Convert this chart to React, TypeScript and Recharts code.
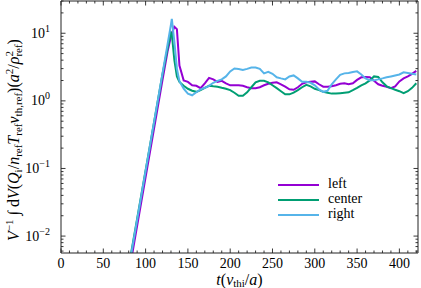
import React from 'react';
import { LineChart, Line, XAxis, YAxis, ReferenceLine, Legend } from 'recharts';

const times = [80, 120, 126, 130, 131, 134, 137, 140, 145, 150, 155, 160, 165, 170, 175, 180, 185, 190, 195, 200, 205, 210, 215, 220, 225, 230, 235, 240, 245, 250, 255, 260, 265, 270, 275, 280, 285, 290, 295, 300, 305, 310, 315, 320, 325, 330, 335, 340, 345, 350, 355, 360, 365, 370, 375, 380, 385, 390, 395, 400, 405, 410, 415, 420];

const leftFlux = [0.0027, 2.05, 5.4, 9.0, 9.8, 12.5, 11.5, 3.33, 2.01, 1.91, 1.70, 1.67, 1.54, 1.82, 2.19, 2.08, 1.91, 1.98, 1.82, 1.70, 1.70, 1.70, 1.67, 1.59, 1.54, 1.54, 1.59, 1.70, 1.79, 1.85, 1.88, 1.76, 1.62, 1.48, 1.46, 1.59, 1.79, 1.88, 1.91, 1.94, 1.76, 1.62, 1.62, 1.64, 1.70, 1.79, 1.82, 1.76, 1.82, 2.04, 2.23, 2.26, 2.23, 1.98, 1.76, 1.67, 1.62, 1.54, 1.64, 1.94, 2.15, 2.30, 2.51, 2.77];

const centerFlux = [0.0035, 2.5, 6.0, 10.3, 9.8, 4.0, 2.3, 1.91, 1.67, 1.51, 1.41, 1.36, 1.44, 1.56, 1.67, 1.64, 1.62, 1.56, 1.51, 1.44, 1.32, 1.19, 1.19, 1.34, 1.59, 1.88, 1.98, 1.98, 1.88, 1.70, 1.54, 1.39, 1.25, 1.25, 1.32, 1.44, 1.59, 1.73, 1.64, 1.51, 1.44, 1.36, 1.32, 1.28, 1.28, 1.30, 1.32, 1.34, 1.44, 1.56, 1.70, 1.82, 2.01, 2.30, 2.26, 1.88, 1.64, 1.54, 1.46, 1.39, 1.30, 1.39, 1.56, 1.82];

const rightFlux = [0.0033, 2.55, 6.9, 13.5, 16.3, 7.5, 3.0, 1.95, 1.51, 1.28, 1.21, 1.34, 1.48, 1.56, 1.67, 1.85, 1.98, 2.08, 2.30, 2.73, 3.02, 2.97, 2.87, 2.97, 3.12, 3.12, 2.97, 2.55, 2.68, 2.51, 2.23, 2.15, 2.08, 2.30, 2.38, 2.15, 1.91, 1.91, 1.85, 1.70, 1.48, 1.36, 1.41, 1.76, 2.08, 2.42, 2.55, 2.59, 2.68, 2.73, 2.46, 2.15, 2.01, 2.01, 2.08, 2.15, 2.23, 2.30, 2.38, 2.46, 2.64, 2.59, 2.51, 2.46];

const seriesKeys = ['left', 'center', 'right'];
const seriesNames = ['left', 'center', 'right'];
const seriesColors = ['#9400D3', '#009E73', '#56B4E9'];

const xMajorTicks = [0, 50, 100, 150, 200, 250, 300, 350, 400];
const xMinorStep = 10;
const xMax = 422;
const yMajorTicks = [0.01, 0.1, 1, 10];
const yMajorExponents = ['\u22122', '\u22121', '0', '1'];
const yMinorMultipliers = [2, 3, 4, 5, 6, 7, 8, 9];
const yDomain = [0.00562, 30];

const data = times.map((t, i) => ({ t, left: leftFlux[i], center: centerFlux[i], right: rightFlux[i] }));

const xTicks: number[] = [];
for (let v = 0; v <= 420; v += xMinorStep) xTicks.push(v);
const yTicks: number[] = [];
[0.001, 0.01, 0.1, 1, 10].forEach((dec) => {
  if (dec >= yDomain[0] && dec <= yDomain[1]) yTicks.push(dec);
  yMinorMultipliers.forEach((m) => {
    const v = +(m * dec).toPrecision(3);
    if (v >= yDomain[0] && v <= yDomain[1]) yTicks.push(v);
  });
});
yTicks.sort((a, b) => a - b);

const W = 421;
const H = 288;
const LEFT = 61;
const TOP = 1;
const RIGHT = 418;
const BOTTOM = 253;
const FONT = 'Liberation Serif';
const AX = '#222';

const XTick = (props: any) => {
  const { x, payload } = props;
  const v = payload.value;
  const major = xMajorTicks.includes(v);
  const len = major ? 4.5 : 2.5;
  return (
    <g>
      <line x1={x} x2={x} y1={BOTTOM} y2={BOTTOM - len} stroke={AX} strokeWidth={0.9} />
      <line x1={x} x2={x} y1={TOP} y2={TOP + len} stroke={AX} strokeWidth={0.9} />
      {major && (
        <text x={x} y={268} textAnchor="middle" fontSize={14} fontFamily={FONT} fill="#000">
          {v}
        </text>
      )}
    </g>
  );
};

const YTick = (props: any) => {
  const { y, payload } = props;
  const v = payload.value;
  const idx = yMajorTicks.findIndex((m) => Math.abs(m - v) / m < 1e-6);
  const major = idx >= 0;
  const len = major ? 4.5 : 2.5;
  return (
    <g>
      <line x1={LEFT} x2={LEFT + len} y1={y} y2={y} stroke={AX} strokeWidth={0.9} />
      <line x1={RIGHT} x2={RIGHT - len} y1={y} y2={y} stroke={AX} strokeWidth={0.9} />
      {major && (
        <text x={50} y={y + 4.5} textAnchor="end" fontSize={14} fontFamily={FONT} fill="#000">
          <tspan>10</tspan>
          <tspan fontSize={10} dy={-6}>{yMajorExponents[idx]}</tspan>
        </text>
      )}
    </g>
  );
};

const sub = 11;

const YLabel = () => (
  <text transform={`translate(19, 140) rotate(-90)`} textAnchor="middle" fontSize={16} fontFamily={FONT} fill="#000">
    <tspan fontStyle="italic">V</tspan>
    <tspan fontSize={sub} dy={-6}>{'\u22121'}</tspan>
    <tspan dy={6}>{' \u222B d'}</tspan>
    <tspan fontStyle="italic">V</tspan>
    <tspan>(</tspan>
    <tspan fontStyle="italic">Q</tspan>
    <tspan fontSize={sub} dy={3}>i</tspan>
    <tspan dy={-3}>/</tspan>
    <tspan fontStyle="italic">n</tspan>
    <tspan fontSize={sub} dy={3}>ref</tspan>
    <tspan dy={-3} fontStyle="italic">T</tspan>
    <tspan fontSize={sub} dy={3}>ref</tspan>
    <tspan dy={-3} fontStyle="italic">v</tspan>
    <tspan fontSize={sub} dy={3}>th,ref</tspan>
    <tspan dy={-3}>)(</tspan>
    <tspan fontStyle="italic">a</tspan>
    <tspan fontSize={sub} dy={-6}>2</tspan>
    <tspan dy={6}>/</tspan>
    <tspan fontStyle="italic">{'\u03C1'}</tspan>
    <tspan fontSize={sub} dy={-6}>2</tspan>
    <tspan fontSize={sub} dx={-5.5} dy={9}>ref</tspan>
    <tspan dy={-3}>)</tspan>
  </text>
);

const XLabel = () => (
  <text x={(LEFT + RIGHT) / 2} y={284.5} textAnchor="middle" fontSize={16} fontFamily={FONT} fill="#000">
    <tspan fontStyle="italic">t</tspan>
    <tspan>(</tspan>
    <tspan fontStyle="italic">v</tspan>
    <tspan fontSize={sub} dy={2.5}>thi</tspan>
    <tspan dy={-2.5}>/</tspan>
    <tspan fontStyle="italic">a</tspan>
    <tspan>)</tspan>
  </text>
);

const LegendBox = () => (
  <div style={{ fontFamily: FONT, fontSize: 14, color: '#000' }}>
    {seriesNames.map((name, i) => (
      <div key={name} style={{ display: 'flex', alignItems: 'center', height: 15 }}>
        <span style={{ display: 'inline-block', width: 41, height: 2, background: seriesColors[i], marginRight: 9 }} />
        <span style={{ lineHeight: '15px', position: 'relative', top: -1 }}>{name}</span>
      </div>
    ))}
  </div>
);

export default function App() {
  return (
    <div style={{ position: 'absolute', left: 0, top: 0, width: W, height: H, background: '#fff' }}>
      <LineChart width={W} height={H} data={data} margin={{ top: TOP, right: W - RIGHT, bottom: 0, left: 0 }}>
        <XAxis
          dataKey="t"
          type="number"
          domain={[0, xMax]}
          ticks={xTicks}
          interval={0}
          tick={<XTick />}
          tickLine={false}
          height={H - BOTTOM}
          axisLine={{ stroke: AX }}
          allowDataOverflow
          label={{ content: () => <XLabel /> }}
        />
        <YAxis
          type="number"
          scale="log"
          domain={yDomain}
          allowDataOverflow
          ticks={yTicks}
          interval={0}
          tick={<YTick />}
          tickLine={false}
          width={LEFT}
          axisLine={{ stroke: AX }}
          label={{ content: () => <YLabel /> }}
        />
        <ReferenceLine y={yDomain[1]} stroke={AX} ifOverflow="visible" />
        <ReferenceLine x={xMax} stroke={AX} ifOverflow="visible" />
        {seriesKeys.map((k, i) => (
          <Line
            key={k}
            dataKey={k}
            name={seriesNames[i]}
            type="linear"
            stroke={seriesColors[i]}
            strokeWidth={2}
            dot={false}
            isAnimationActive={false}
          />
        ))}
        <Legend
          layout="vertical"
          align="center"
          verticalAlign="middle"
          content={() => <LegendBox />}
          wrapperStyle={{ position: 'absolute', left: 278, top: 177, width: 120 }}
        />
      </LineChart>
    </div>
  );
}
